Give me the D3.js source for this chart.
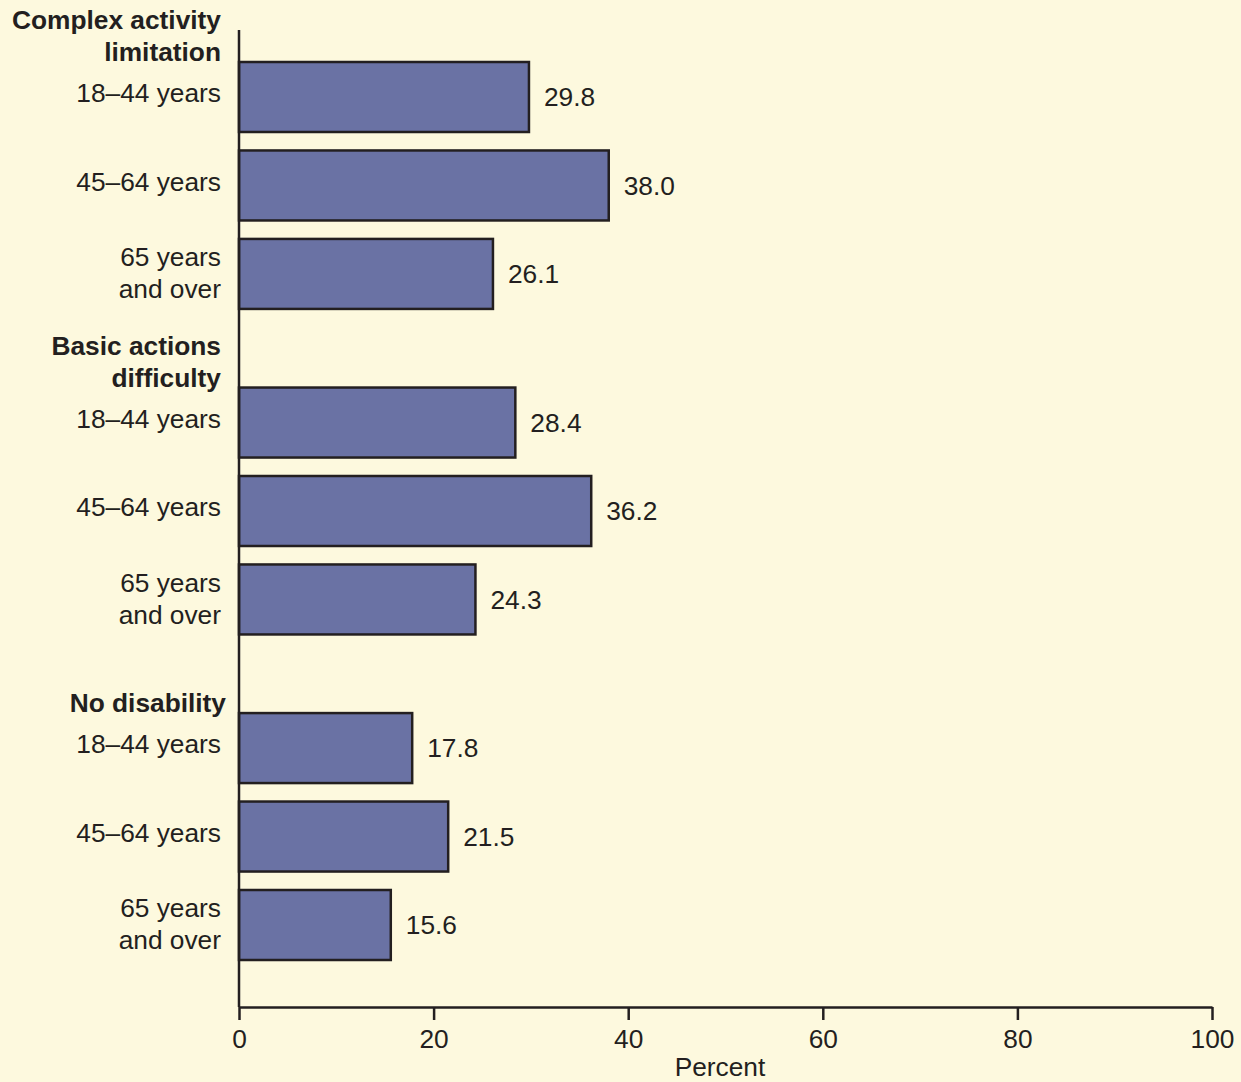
<!DOCTYPE html>
<html><head><meta charset="utf-8">
<script src="https://cdn.jsdelivr.net/npm/d3@7"></script>
<style>
html,body{margin:0;padding:0;background:#fdf9de;}
svg{display:block;font-family:"Liberation Sans",Arial,sans-serif;}
</style></head>
<body>
<svg id="chart" width="1241" height="1082"></svg>
<script>
const groups = [["Complex activity","limitation"],["Basic actions","difficulty"],["No disability"]];
const ageLabels = [["18–44 years"],["45–64 years"],["65 years","and over"]];
const values = [
  [29.8, 38.0, 26.1],
  [28.4, 36.2, 24.3],
  [17.8, 21.5, 15.6]
];
const xTicks = [0,20,40,60,80,100];
const xTitle = "Percent";

const svg = d3.select("#chart");
const W = 1241, H = 1082;
svg.append("rect").attr("width",W).attr("height",H).attr("fill","#fdf9de");

const x = d3.scaleLinear().domain([0,100]).range([239,1212]);
const headerGap = 0.68;
const y = d3.scaleLinear().domain([0, 8 + 2*headerGap]).range([62, 890]);
const barH = 70;
const ink = "#231f20";
const fs = 26.3;
const dy = 9.3;

const rows = [];
values.forEach((g,gi)=>g.forEach((v,ai)=>rows.push({gi,ai,v,p: gi*3+ai+gi*headerGap})));

// bars
svg.selectAll("rect.bar").data(rows).enter().append("rect")
  .attr("class","bar")
  .attr("x",x(0)).attr("y",d=>y(d.p))
  .attr("width",d=>x(d.v)-x(0)).attr("height",barH)
  .attr("fill","#6a72a4").attr("stroke",ink).attr("stroke-width",2.5);

// value labels
svg.selectAll("text.val").data(rows).enter().append("text")
  .attr("x",d=>x(d.v)+15).attr("y",d=>y(d.p)+barH/2+dy)
  .attr("font-size",fs).attr("fill",ink)
  .text(d=>d.v.toFixed(1));

// age labels
rows.forEach(d=>{
  const lines = ageLabels[d.ai];
  const cy = y(d.p)+barH/2 - (lines.length>1 ? 1 : 4);
  lines.forEach((t,i)=>{
    const off = (i - (lines.length-1)/2)*32;
    svg.append("text").attr("x",221).attr("y",cy+off+dy)
      .attr("text-anchor","end").attr("font-size",fs).attr("fill",ink).text(t);
  });
});

// group headers
groups.forEach((lines,gi)=>{
  const top = y(gi*3+gi*headerGap);
  const n = lines.length;
  const rx = n===1 ? 226 : 221;
  lines.forEach((t,i)=>{
    const cy = top - 10 - (n-1-i)*32;
    svg.append("text").attr("x",rx).attr("y",cy+dy)
      .attr("text-anchor","end").attr("font-size",fs).attr("font-weight","bold")
      .attr("fill",ink).text(t);
  });
});

// y axis line
svg.append("line").attr("x1",x(0)).attr("x2",x(0)).attr("y1",30).attr("y2",1007)
  .attr("stroke",ink).attr("stroke-width",2.5);

// x axis
const xAxis = d3.axisBottom(x).tickValues(xTicks).tickSize(13).tickPadding(9).tickSizeOuter(0);
const gx = svg.append("g").attr("transform","translate(0,1007)").call(xAxis);
gx.select(".domain").attr("stroke",ink).attr("stroke-width",2.5);
gx.selectAll(".tick line").attr("stroke",ink).attr("stroke-width",2.5);
gx.selectAll(".tick text").attr("font-size",fs).attr("fill",ink)
  .attr("font-family","Liberation Sans, Arial, sans-serif");

svg.append("text").attr("x",720).attr("y",1076).attr("text-anchor","middle")
  .attr("font-size",fs).attr("fill",ink).text(xTitle);
</script>
</body></html>
